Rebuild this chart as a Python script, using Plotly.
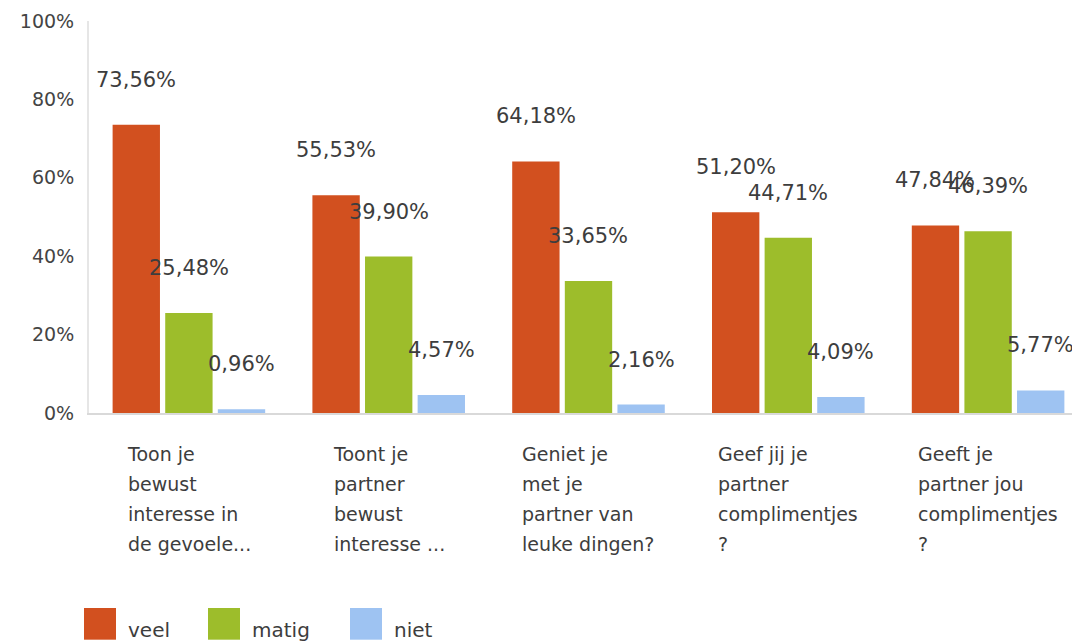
import plotly.graph_objects as go

categories = [
    "Toon je<br>bewust<br>interesse in<br>de gevoele...",
    "Toont je<br>partner<br>bewust<br>interesse ...",
    "Geniet je<br>met je<br>partner van<br>leuke dingen?",
    "Geef jij je<br>partner<br>complimentjes<br>?",
    "Geeft je<br>partner jou<br>complimentjes<br>?",
]
series_names = ["veel", "matig", "niet"]
veel = [73.56, 55.53, 64.18, 51.20, 47.84]
matig = [25.48, 39.90, 33.65, 44.71, 46.39]
niet = [0.96, 4.57, 2.16, 4.09, 5.77]
colors = ["#D2501F", "#9DBD2B", "#9EC3F2"]
ytick_vals = [0, 20, 40, 60, 80, 100]
ytick_text = [f"{v}%" for v in ytick_vals]

# page body has an 8px margin; work in figure coordinates
OFF = 8
W, H = 1080 - OFF, 643 - OFF
ML, MR, MT, MB = 89 - OFF, 2, 17 - OFF, 230
xr = [-0.5, 4.45]
plot_w = W - ML - MR
plot_h = H - MT - MB
base_y = H - MB
px_per_unit = plot_w / (xr[1] - xr[0])
bargap = 0.21
slot = (1 - bargap) / 3

keys = list(range(len(categories)))
fig = go.Figure()
all_vals = [veel, matig, niet]
for name, vals, col in zip(series_names, all_vals, colors):
    fig.add_trace(go.Bar(x=keys, y=vals, name=name, marker=dict(color=col, line=dict(width=0)),
                         showlegend=False, hoverinfo="skip"))

annotations = []
for si, vals in enumerate(all_vals):
    off = (si - 1) * slot * px_per_unit
    for ci, v in enumerate(vals):
        annotations.append(dict(
            x=ci, y=v, xref="x", yref="y", text=f"{v:.2f}".replace(".", ",") + "%",
            showarrow=False, xshift=off, yshift=45, yanchor="middle",
            font=dict(family="DejaVu Sans", size=21, color="#3d3d3d")))

for ci, cat in enumerate(categories):
    annotations.append(dict(
        x=ci, y=0, xref="x", yref="y", yanchor="top", xanchor="center", align="left",
        text=f"<span style='font-size:19px'>{cat}</span>", showarrow=False, yshift=-28,
        font=dict(family="DejaVu Sans", size=23, color="#3d3d3d")))

# manual legend (pixel positions in page coords)
legend_x = [84, 208, 350]
shapes = []
for name, col, lx in zip(series_names, colors, legend_x):
    lx -= OFF
    x0 = (lx - ML) / plot_w
    x1 = (lx + 32 - ML) / plot_w
    y0 = (base_y - (642 - OFF)) / plot_h
    y1 = (base_y - (610 - OFF)) / plot_h
    shapes.append(dict(type="rect", xref="paper", yref="paper", x0=x0, x1=x1, y0=y0, y1=y1,
                       fillcolor=col, line=dict(width=0), layer="above"))
    annotations.append(dict(x=(lx + 42 - ML) / plot_w, y=(base_y - (632 - OFF)) / plot_h,
                            xref="paper", yref="paper",
                            xanchor="left", yanchor="middle", text=name, showarrow=False,
                            font=dict(family="DejaVu Sans", size=20, color="#3d3d3d")))

fig.update_layout(
    width=W, height=H,
    margin=dict(l=ML, r=MR, t=MT, b=MB),
    paper_bgcolor="white", plot_bgcolor="white",
    barmode="group", bargap=bargap, bargroupgap=0.10,
    showlegend=False,
    annotations=annotations, shapes=shapes,
    xaxis=dict(range=xr, showticklabels=False, ticks="", showgrid=False, zeroline=False,
               showline=True, linecolor="#d9d9d9", linewidth=2),
    yaxis=dict(range=[0, 100], tickmode="array", tickvals=ytick_vals, ticktext=ytick_text,
               showgrid=False, zeroline=False, ticklabeloverflow="allow",
               showline=True, linecolor="#e6e6e6", linewidth=2, ticks="", ticklabelstandoff=9,
               tickfont=dict(family="DejaVu Sans", size=19, color="#444444")),
)

fig.write_html("out.html")
